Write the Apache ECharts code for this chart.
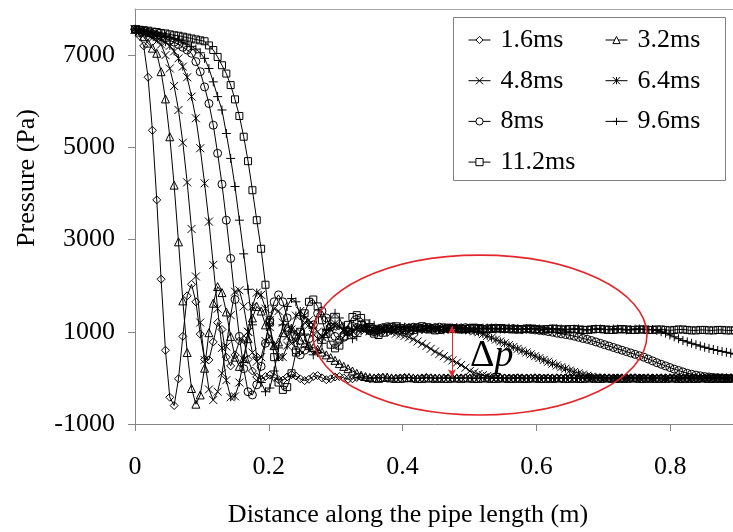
<!DOCTYPE html>
<html><head><meta charset="utf-8">
<script src="https://cdn.jsdelivr.net/npm/echarts/dist/echarts.min.js"></script>
<style>html,body{margin:0;padding:0;background:#fff}#chart{width:733px;height:532px}</style>
</head><body><div id="chart"></div>
<script>
// ---------- data ----------
const distance = [
0,0.0065,0.013,0.0195,0.026,0.0325,0.039,0.0455,0.052,0.0585,
0.065,0.0715,0.078,0.0845,0.091,0.0975,0.104,0.1105,0.117,0.1235,
0.13,0.1365,0.143,0.1495,0.156,0.1625,0.169,0.1755,0.182,0.1885,
0.195,0.2015,0.208,0.2145,0.221,0.2275,0.234,0.2405,0.247,0.2535,
0.26,0.2665,0.273,0.2795,0.286,0.2925,0.299,0.3055,0.312,0.3185,
0.325,0.3315,0.338,0.3445,0.351,0.3575,0.364,0.3705,0.377,0.3835,
0.39,0.3965,0.403,0.4095,0.416,0.4225,0.429,0.4355,0.442,0.4485,
0.455,0.4615,0.468,0.4745,0.481,0.4875,0.494,0.5005,0.507,0.5135,
0.52,0.5265,0.533,0.5395,0.546,0.5525,0.559,0.5655,0.572,0.5785,
0.585,0.5915,0.598,0.6045,0.611,0.6175,0.624,0.6305,0.637,0.6435,
0.65,0.6565,0.663,0.6695,0.676,0.6825,0.689,0.6955,0.702,0.7085,
0.715,0.7215,0.728,0.7345,0.741,0.7475,0.754,0.7605,0.767,0.7735,
0.78,0.7865,0.793,0.7995,0.806,0.8125,0.819,0.8255,0.832,0.8385,
0.845,0.8515,0.858,0.8645,0.871,0.8775,0.884,0.8905,0.897,0.9035,
0.91];

const seriesNames = ['1.6ms','3.2ms','4.8ms','6.4ms','8ms','9.6ms','11.2ms'];

const p16 = [7550,7420,7200,6520,5370,3860,2140,600,-420,-600,
-20,900,1780,2030,1650,950,400,390,780,1200,
1050,450,260,500,800,830,400,150,20,-30,
30,60,10,-40,-50,20,70,40,-20,-60,
-30,30,50,0,-40,-20,20,30,0,-30,
-20,10,20,0,-20,-10,10,10,-10,-20,
-10,0,10,0,-10,-10,0,10,0,-10,
-10,0,0,-10,-10,0,0,-10,-10,0,
0,-10,-10,0,0,-10,-10,-10,0,0,
-10,-10,0,0,-10,-10,-10,0,-10,-10,
0,0,-10,-10,0,-10,-10,0,0,-10,
-10,0,-10,-10,0,0,-10,-10,0,-10,
-10,0,0,-10,-10,0,-10,-10,0,0,
-10,-10,0,-10,-10,0,0,-10,-10,0,
-10];

const p32 = [7560,7500,7400,7260,7150,7040,6640,6050,5230,4180,
2950,1670,550,-230,-570,-370,210,980,1620,1980,
1850,1430,900,450,250,420,850,1300,1550,1450,
1150,850,700,780,980,1100,1080,950,820,750,
700,660,620,560,500,440,380,310,250,200,
150,100,60,30,10,0,-10,10,20,0,
-10,-10,0,10,0,-10,-10,0,0,-10,
0,-10,-10,0,0,-10,0,0,-10,-10,
0,0,-10,-10,0,0,-10,-10,0,-10,
-10,0,0,-10,-10,0,-10,0,0,-10,
-10,0,-10,-10,0,0,-10,-10,0,0,
-10,-10,0,-10,0,0,-10,-10,0,-10,
0,-10,-10,0,0,-10,-10,0,-10,-10,
0,0,-10,-10,0,-10,-10,0,0,-10,
-10];

const p48 = [7560,7520,7480,7430,7370,7300,7230,7000,6710,6330,
5810,5100,4240,3230,2200,1200,390,-250,-480,-300,
100,680,1360,1870,1900,1550,1000,550,350,450,
800,1250,1500,1450,1200,900,750,800,1000,1200,
1250,1150,1000,900,950,1050,1120,1100,1030,1000,
1040,1080,1070,1030,1010,1040,1070,1050,1020,990,
960,940,910,880,840,790,740,690,630,570,
520,470,420,380,330,280,220,150,115,85,
60,40,20,5,-5,-10,-10,0,0,-10,
-10,0,-10,-10,0,0,-10,-10,0,-10,
0,-10,-10,0,0,-10,-10,0,-10,-10,
0,0,-10,-10,0,-10,0,0,-10,-10,
0,-10,-10,0,0,-10,-10,0,0,-10,
-10,0,-10,-10,0,0,-10,-10,0,-10,
0];

const p64 = [7560,7530,7500,7470,7430,7390,7340,7280,7200,7080,
6930,6750,6520,6100,5630,4980,4220,3390,2450,1500,
650,-50,-420,-400,-100,400,1000,1550,1850,1800,
1500,1100,700,450,450,700,1050,1350,1450,1350,
1150,950,850,880,1000,1120,1180,1130,1050,1000,
1010,1060,1090,1070,1030,1010,1040,1080,1090,1060,
1040,1050,1080,1100,1090,1060,1050,1070,1090,1080,
1060,1050,1060,1070,1060,1050,1040,1030,1010,990,
950,910,870,830,790,750,710,670,630,590,
550,510,470,430,390,350,310,270,230,200,
160,130,100,70,45,25,10,0,-5,-10,
-10,0,-10,-10,0,0,-10,-10,0,-10,
0,-10,-10,0,0,-10,-10,0,-10,-10,
0,0,-10,-10,0,-10,-10,0,0,-10,
-10];

const p80 = [7560,7540,7520,7490,7460,7430,7400,7360,7320,7280,
7230,7170,7110,7040,6860,6640,6310,5950,5480,4870,
4200,3420,2590,1700,900,200,-300,-370,-150,250,
750,1250,1650,1800,1650,1300,900,600,500,600,
850,1150,1400,1450,1300,1100,900,820,880,1000,
1120,1180,1150,1080,1020,1000,1040,1090,1110,1090,
1060,1040,1050,1080,1100,1090,1070,1060,1070,1090,
1100,1090,1070,1060,1070,1080,1090,1080,1070,1060,
1060,1070,1080,1080,1070,1060,1060,1070,1060,1050,
1060,1050,1040,1030,1020,1005,990,970,955,940,
925,905,880,855,835,810,780,750,720,690,
660,630,600,570,540,510,480,450,410,370,
330,295,260,225,190,160,130,100,80,60,
45,30,20,10,5,0,-5,-10,-10,-10,
-10];

const p96 = [7560,7550,7530,7510,7490,7460,7440,7410,7380,7350,
7320,7280,7240,7190,7130,7050,6930,6710,6420,6100,
5810,5300,4760,4150,3420,2690,1920,1150,450,-100,
-300,-220,150,650,1150,1550,1720,1650,1350,950,
650,500,550,750,1050,1300,1400,1300,1100,930,
850,900,1020,1130,1180,1140,1060,1000,990,1030,
1080,1110,1100,1060,1030,1020,1050,1080,1090,1070,
1050,1040,1060,1080,1090,1080,1060,1050,1060,1070,
1080,1080,1070,1060,1060,1070,1080,1070,1060,1050,
1060,1070,1070,1060,1050,1050,1060,1070,1060,1050,
1050,1060,1060,1050,1040,1050,1060,1060,1050,1050,
1060,1060,1050,1040,1050,1060,1060,1050,1050,1050,
1030,1000,970,930,890,850,810,780,750,720,
690,665,640,615,595,575,555,535,515,495,
480];

const p112 = [7560,7550,7540,7530,7510,7500,7480,7470,7450,7430,
7420,7400,7380,7360,7340,7320,7300,7210,7110,6960,
6780,6600,6350,6040,5680,5230,4700,4070,3420,2800,
2020,1200,450,-100,-260,-200,100,550,1000,1400,
1650,1700,1550,1250,950,720,640,700,900,1150,
1320,1360,1300,1180,1050,960,930,980,1060,1110,
1120,1080,1030,1010,1040,1090,1120,1100,1050,1030,
1040,1070,1090,1080,1060,1050,1060,1080,1090,1080,
1060,1050,1060,1070,1080,1070,1060,1050,1050,1060,
1070,1070,1060,1050,1050,1060,1070,1060,1050,1050,
1060,1060,1050,1040,1040,1050,1060,1060,1050,1040,
1040,1050,1060,1050,1040,1040,1050,1050,1040,1040,
1050,1050,1040,1030,1040,1050,1050,1040,1030,1030,
1040,1040,1030,1030,1040,1040,1030,1030,1030,1040,
1030];

const xTicks = [0, 0.2, 0.4, 0.6, 0.8, 1];
const yTicks = [-1000, 1000, 3000, 5000, 7000];

// annotation anchors in data units
const dpX = 0.4738, dpTop = 1125, dpBottom = 15;
const ellipseCenter = [0.5157, 929];
const ellipseRadius = [0.2496, 1734];
const dpLabelAnchor = [0.5007, 475];

// ---------- chart ----------
const pressures = [p16, p32, p48, p64, p80, p96, p112];
const FONT = '"Liberation Serif", "Times New Roman", serif';
const RED = '#e3262b';
const AXIS = '#868686';
const markers = [
  {symbol: 'diamond', size: 8},
  {symbol: 'triangle', size: 8},
  {symbol: 'path://M0,0L10,10M10,0L0,10', size: 8},
  {symbol: 'path://M0,0L10,10M10,0L0,10M5,0L5,10', size: 8},
  {symbol: 'circle', size: 8},
  {symbol: 'path://M5,0L5,10M0,5L10,5', size: 9},
  {symbol: 'rect', size: 7}
];

const chart = echarts.init(document.getElementById('chart'), null, {renderer: 'canvas'});

const series = seriesNames.map((name, k) => ({
  name: name,
  type: 'line',
  xAxisIndex: 0,
  yAxisIndex: 0,
  data: distance.map((x, i) => [x, pressures[k][i]]),
  symbol: markers[k].symbol,
  symbolSize: markers[k].size,
  showSymbol: true,
  showAllSymbol: true,
  silent: true,
  clip: true,
  lineStyle: {color: '#000', width: 1},
  itemStyle: {color: 'rgba(0,0,0,0)', borderColor: '#000', borderWidth: 1},
  emphasis: {disabled: true},
  z: 2
}));
series[6].markLine = {
  silent: true,
  symbol: ['arrow', 'arrow'],
  symbolSize: [6, 8],
  label: {show: false},
  lineStyle: {color: RED, width: 1, type: 'solid'},
  data: [[{coord: [dpX, dpTop]}, {coord: [dpX, dpBottom]}]],
  z: 10
};

const legendBase = {
  orient: 'vertical',
  top: 25,
  padding: 0,
  itemWidth: 22,
  itemHeight: 9,
  itemGap: 10.7,
  selectedMode: false,
  itemStyle: {color: '#fff', borderColor: '#000', borderWidth: 1},
  lineStyle: {color: '#000', width: 1},
  textStyle: {fontFamily: FONT, fontSize: 26, color: '#000', lineHeight: 30, padding: [0, 0, 0, 5]},
  z: 6
};

const option = {
  animation: false,
  backgroundColor: '#fff',
  grid: {left: 135, top: 9, width: 669, height: 415, containLabel: false, outerBoundsMode: 'none'},
  xAxis: [{
    type: 'value', min: 0, max: 1, position: 'bottom',
    axisLine: {show: true, onZero: false, lineStyle: {color: AXIS, width: 1}},
    axisTick: {show: true, inside: false, length: 7, customValues: xTicks, lineStyle: {color: AXIS}},
    axisLabel: {show: true, customValues: xTicks, margin: 30, fontFamily: FONT, fontSize: 26, color: '#000',
      formatter: v => String(v)},
    splitLine: {show: false}
  }, {
    type: 'value', min: 0, max: 1, position: 'top',
    axisLine: {show: true, onZero: false, lineStyle: {color: '#a6a6a6', width: 1}},
    axisTick: {show: false}, axisLabel: {show: false}, splitLine: {show: false}
  }],
  yAxis: {
    type: 'value', min: -1000, max: 8000,
    axisLine: {show: true, onZero: false, lineStyle: {color: AXIS, width: 1}},
    axisTick: {show: true, inside: false, length: 7, customValues: yTicks, lineStyle: {color: AXIS}},
    axisLabel: {show: true, customValues: yTicks, margin: 20, fontFamily: FONT, fontSize: 26, color: '#000',
      formatter: v => String(v)},
    splitLine: {show: false}
  },
  legend: [
    Object.assign({}, legendBase, {left: 468, data: ['1.6ms', '4.8ms', '8ms', '11.2ms']}),
    Object.assign({}, legendBase, {left: 605, data: ['3.2ms', '6.4ms', '9.6ms']})
  ],
  series: series
};
chart.setOption(option);

const c = chart.convertToPixel({gridIndex: 0}, ellipseCenter);
const e = chart.convertToPixel({gridIndex: 0}, [ellipseCenter[0] + ellipseRadius[0], ellipseCenter[1] + ellipseRadius[1]]);
const lbl = chart.convertToPixel({gridIndex: 0}, dpLabelAnchor);

chart.setOption({
  graphic: [
    {type: 'rect', z: 5, silent: true, shape: {x: 453.5, y: 17.5, width: 272, height: 163},
      style: {fill: '#fff', stroke: '#7f7f7f', lineWidth: 1}},
    {type: 'ellipse', z: 8, silent: true, shape: {cx: c[0], cy: c[1], rx: e[0] - c[0], ry: c[1] - e[1]},
      style: {fill: 'none', stroke: RED, lineWidth: 1.6}},
    {type: 'text', z: 9, silent: true, x: lbl[0], y: lbl[1],
      style: {text: '{d|Δ}{p|p}', verticalAlign: 'middle', align: 'left',
        rich: {d: {fontFamily: FONT, fontSize: 38, fill: '#000'},
               p: {fontFamily: FONT, fontSize: 38, fontStyle: 'italic', fill: '#000'}}}},
    {type: 'text', z: 9, silent: true, x: 408, y: 515,
      style: {text: 'Distance along the pipe length (m)', fontFamily: FONT, fontSize: 26, fill: '#000',
        align: 'center', verticalAlign: 'middle'}},
    {type: 'text', z: 9, silent: true, x: 27, y: 178, rotation: Math.PI / 2,
      style: {text: 'Pressure (Pa)', fontFamily: FONT, fontSize: 26, fill: '#000',
        align: 'center', verticalAlign: 'middle'}}
  ]
});
</script>
</body></html>
